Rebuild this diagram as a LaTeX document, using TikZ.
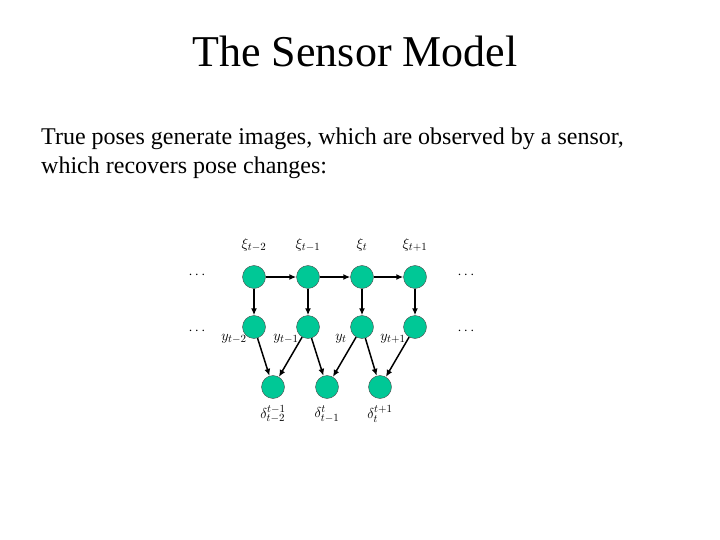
\documentclass[tikz,border=0pt]{standalone}
\usepackage{fontspec}
\setmainfont{Liberation Serif}
\usetikzlibrary{arrows.meta}
\definecolor{mint}{RGB}{0,200,150}
\begin{document}
\begin{tikzpicture}[x=1pt,y=-1pt,
    state/.style={circle,draw=black!70,fill=mint,minimum size=23pt,inner sep=0pt},
    lbl/.style={inner sep=1pt,font=\fontsize{15}{17}\selectfont},
    body/.style={anchor=base west,inner sep=0pt,font=\fontsize{24}{28}\selectfont}]
  \useasboundingbox (0,0) rectangle (720,540);
  \node[anchor=base,font=\fontsize{44}{50}\selectfont] (title) at (355,67) {The Sensor Model};
  \node[body] (line1) at (41,145) {True poses generate images, which are observed by a sensor,};
  \node[body] (line2) at (41,174) {which recovers pose changes:};
  \draw
    (254,277) node[state] (x1){}
    (308,277) node[state] (x2){}
    (362,277) node[state] (x3){}
    (415,277) node[state] (x4){}
    (254,327) node[state] (y1){}
    (308,327) node[state] (y2){}
    (362,327) node[state] (y3){}
    (415,327) node[state] (y4){}
    (273,387) node[state] (d1){}
    (327,387) node[state] (d2){}
    (380,387) node[state] (d3){};
  \draw
    (254,245) node[lbl] (lx1){$\xi_{t-2}$}
    (308,245) node[lbl] (lx2){$\xi_{t-1}$}
    (362,245) node[lbl] (lx3){$\xi_{t}$}
    (415,245) node[lbl] (lx4){$\xi_{t+1}$}
    (234,339) node[lbl] (ly1){$y_{t-2}$}
    (286,339) node[lbl] (ly2){$y_{t-1}$}
    (341,339) node[lbl] (ly3){$y_{t}$}
    (393,339) node[lbl] (ly4){$y_{t+1}$}
    (273,414) node[lbl] (ld1){$\delta_{t-2}^{t-1}$}
    (327,414) node[lbl] (ld2){$\delta_{t-1}^{t}$}
    (380,414) node[lbl] (ld3){$\delta_{t}^{t+1}$}
    (197,275) node[lbl] (dl1){$\cdots$}
    (197,331) node[lbl] (dl2){$\cdots$}
    (466,275) node[lbl] (dr1){$\cdots$}
    (466,331) node[lbl] (dr2){$\cdots$};
  \begin{scope}[-{Latex[length=7pt,width=6pt]},line width=1.5pt]
    \draw (x1) to (x2);
    \draw (x2) to (x3);
    \draw (x3) to (x4);
    \draw (x1) to (y1);
    \draw (x2) to (y2);
    \draw (x3) to (y3);
    \draw (x4) to (y4);
    \draw (y1) to (d1);
    \draw (y2) to (d1);
    \draw (y2) to (d2);
    \draw (y3) to (d2);
    \draw (y3) to (d3);
    \draw (y4) to (d3);
  \end{scope}
\end{tikzpicture}
\end{document}
